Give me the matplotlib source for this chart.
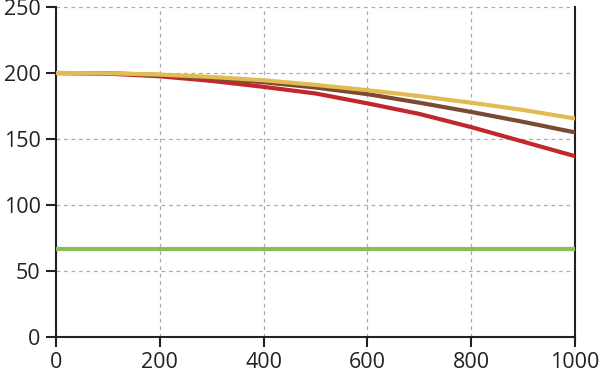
import matplotlib
matplotlib.use("Agg")
import matplotlib.pyplot as plt

x = [0, 100, 200, 300, 400, 500, 600, 700, 800, 900, 1000]
red = [200, 199.5, 197.5, 194, 189.5, 184.5, 177, 169, 159, 148, 137]
brown = [200, 199.8, 198.5, 196, 193, 189, 184, 177.5, 170.5, 163, 155]
yellow = [200, 199.8, 198.8, 197, 194.5, 191, 187, 182.5, 177.5, 172, 165.5]
green = [67] * len(x)

xticks = [0, 200, 400, 600, 800, 1000]
yticks = [0, 50, 100, 150, 200, 250]

plt.rcParams['font.family'] = ['Open Sans', 'DejaVu Sans']

fig = plt.figure(figsize=(6, 3.75), dpi=100)
ax = fig.add_axes([56/600, 38/375, 519/600, 330/375])

ax.plot(x, green, color='#8dbd5a', lw=3, solid_capstyle='butt', zorder=3)
ax.plot(x, red, color='#c1272d', lw=3, zorder=3)
ax.plot(x, brown, color='#7a4a32', lw=3, zorder=4)
ax.plot(x, yellow, color='#e2bb55', lw=3, zorder=5)

ax.set_xlim(0, 1000)
ax.set_ylim(0, 250)
ax.set_xticks(xticks)
ax.set_yticks(yticks)
ax.grid(True, color='#aaaaaa', linestyle=(0, (3, 3)), lw=0.9)
ax.spines['top'].set_visible(False)
for s in ['left', 'bottom', 'right']:
    ax.spines[s].set_color('#222222')
    ax.spines[s].set_linewidth(1.5)
ax.tick_params(direction='out', length=7, width=1.5, color='#222222',
               labelsize=15.5, labelcolor='#222222')
ax.tick_params(axis='y', pad=4)
ax.tick_params(axis='x', pad=4)

fig.savefig('out.png', dpi=100)
